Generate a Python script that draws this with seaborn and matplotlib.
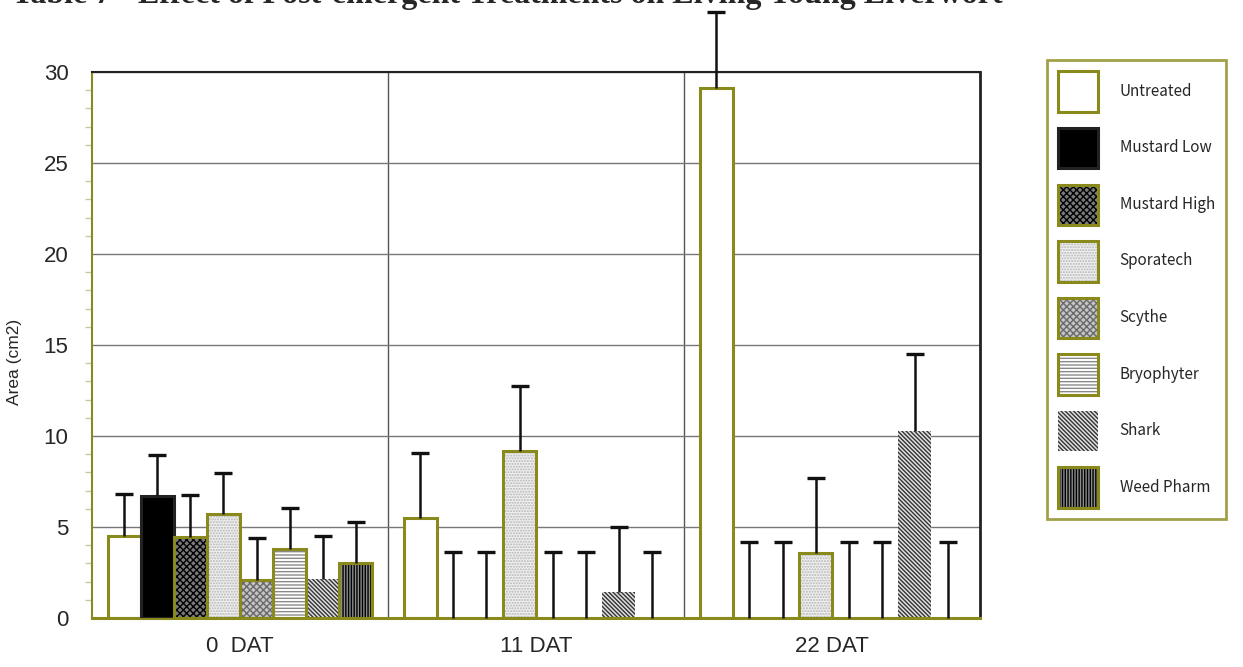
import matplotlib
matplotlib.use("Agg")
import matplotlib.pyplot as plt
import numpy as np
import pandas as pd
import seaborn as sns
from matplotlib.patches import Patch
from matplotlib.ticker import MultipleLocator, FixedLocator

sns.set_style("white")

treatments = ["Untreated", "Mustard Low", "Mustard High", "Sporatech",
              "Scythe", "Bryophyter", "Shark", "Weed Pharm"]
days = ["0  DAT", "11 DAT", "22 DAT"]

area_0dat = [4.5, 6.7, 4.45, 5.7, 2.1, 3.8, 2.15, 3.0]
area_11dat = [5.5, 0, 0, 9.15, 0, 0, 1.4, 0]
area_22dat = [29.1, 0, 0, 3.55, 0, 0, 10.3, 0]

err_0dat = [2.3, 2.25, 2.3, 2.25, 2.3, 2.25, 2.35, 2.25]
err_11dat = [3.55, 3.6, 3.6, 3.6, 3.6, 3.6, 3.6, 3.6]
err_22dat = [4.2, 4.2, 4.2, 4.15, 4.2, 4.2, 4.2, 4.2]

OLIVE = "#8a8a1c"

# fill, hatch, hatch colour, outline colour
styles = {
    "Untreated":    ("white",   "",           "white",   OLIVE),
    "Mustard Low":  ("black",   "",           "black",   "#222222"),
    "Mustard High": ("#7a7a7a", "xxxxx",      "black",   OLIVE),
    "Sporatech":    ("#f0f0f0", "......",     "#b5b5b5", OLIVE),
    "Scythe":       ("#c4c4c4", "xxxxx",      "#6a6a6a", OLIVE),
    "Bryophyter":   ("white",   "-----",      "#8a8a8a", OLIVE),
    "Shark":        ("#e0e0e0", "\\" * 8,     "#333333", "none"),
    "Weed Pharm":   ("#8c8c8c", "||||||",     "black",   OLIVE),
}

rows = []
for i, t in enumerate(treatments):
    for d, a, e in zip(days, [area_0dat, area_11dat, area_22dat], [err_0dat, err_11dat, err_22dat]):
        rows.append({"day": d, "treatment": t, "area": a[i], "err": e[i]})
df = pd.DataFrame(rows)

plt.rcParams["hatch.linewidth"] = 1.0
fig = plt.figure(figsize=(12.43, 6.67), dpi=100)
ax = fig.add_axes([0.074, 0.0735, 0.7145, 0.8185])

palette = {t: styles[t][0] for t in treatments}
n0 = len(ax.containers)
sns.barplot(data=df, x="day", y="area", hue="treatment", order=days, hue_order=treatments,
            palette=palette, width=0.893, errorbar=None, legend=False, ax=ax, zorder=2)
fill_conts = ax.containers[n0:]
for t, cont in zip(treatments, fill_conts):
    fc, hatch, hc, ec = styles[t]
    for bar in cont:
        bar.set_facecolor(fc)
        bar.set_hatch(hatch)
        bar.set_edgecolor(hc)
        bar.set_linewidth(0)

n1 = len(ax.containers)
sns.barplot(data=df, x="day", y="area", hue="treatment", order=days, hue_order=treatments,
            palette=palette, width=0.893, errorbar=None, legend=False, fill=False, ax=ax, zorder=3)
for t, cont in zip(treatments, ax.containers[n1:]):
    ec = styles[t][3]
    for bar in cont:
        bar.set_facecolor("none")
        bar.set_edgecolor(ec)
        bar.set_linewidth(2.2 if bar.get_height() > 0 else 0)

# one-sided error bars, cap only on top
for t, cont in zip(treatments, fill_conts):
    sub = df[df["treatment"] == t].set_index("day").loc[days]
    xs = [b.get_x() + b.get_width() / 2 for b in cont]
    tops = sub["area"] + sub["err"]
    ax.vlines(xs, sub["area"], tops, color="#111111", lw=1.8, zorder=4, clip_on=False)
    ax.plot(xs, tops, ls="none", marker="_", ms=13, mew=2.4, color="#111111", zorder=4,
            clip_on=False)

ax.set_xlim(-0.5, 2.5)
ax.set_ylim(0, 30)
ax.yaxis.set_major_locator(MultipleLocator(5))
ax.yaxis.set_minor_locator(MultipleLocator(1))
ax.grid(axis="y", which="major", color="#777777", lw=1, zorder=0)
for xv in [0.5, 1.5]:
    ax.axvline(xv, color="#555555", lw=1, zorder=0)

ax.xaxis.set_major_locator(FixedLocator([-0.5, 0.5, 1.5, 2.5]))
ax.xaxis.set_minor_locator(FixedLocator([0, 1, 2]))
ax.set_xticklabels([], minor=False)
ax.set_xticklabels(days, minor=True, fontsize=16, family="Liberation Sans")
ax.tick_params(axis="x", which="major", length=11, width=1, color=OLIVE, direction="out")
ax.tick_params(axis="x", which="minor", length=0, pad=13)
ax.tick_params(axis="y", which="major", length=11, width=1, color=OLIVE, direction="out",
               labelsize=16, pad=6)
ax.tick_params(axis="y", which="minor", length=5, width=1, color="#c8c8a0", direction="out", left=True)
for lbl in ax.get_yticklabels():
    lbl.set_family("Liberation Sans")
ax.set_xlabel("")
ax.set_ylabel("Area (cm2)", fontsize=12.5, family="Liberation Sans")
ax.yaxis.set_label_coords(-0.079, 0.469)

ax.spines["left"].set_color(OLIVE)
ax.spines["left"].set_linewidth(1.5)
ax.spines["bottom"].set_color(OLIVE)
ax.spines["bottom"].set_linewidth(2.2)
ax.spines["top"].set_color("#222222")
ax.spines["top"].set_linewidth(1.5)
ax.spines["right"].set_color("#222222")
ax.spines["right"].set_linewidth(2)

handles = []
for t in treatments:
    fc, hatch, hc, ec = styles[t]
    handles.append((Patch(facecolor=fc, hatch=hatch, edgecolor=hc, lw=0),
                    Patch(facecolor="none", edgecolor=ec, lw=2.2)))
leg = fig.legend(handles, treatments, loc="upper left", bbox_to_anchor=(1047 / 1243, 1 - 60 / 667),
                 prop={"family": "Noto Sans CJK JP", "size": 11},
                 handlelength=2.6, handleheight=3.7, labelspacing=1.05, handletextpad=1.4,
                 borderpad=0.75, borderaxespad=0, frameon=True, fancybox=False)
leg.get_frame().set_edgecolor(OLIVE)
leg.get_frame().set_linewidth(2)

fig.text(12 / 1243, 1 - 3 / 667, "Table 7 - Effect of Post-emergent Treatments on Living Young Liverwort",
         family="Liberation Serif", weight="bold", fontsize=23, va="baseline", ha="left")

fig.savefig("out.png", dpi=100)
